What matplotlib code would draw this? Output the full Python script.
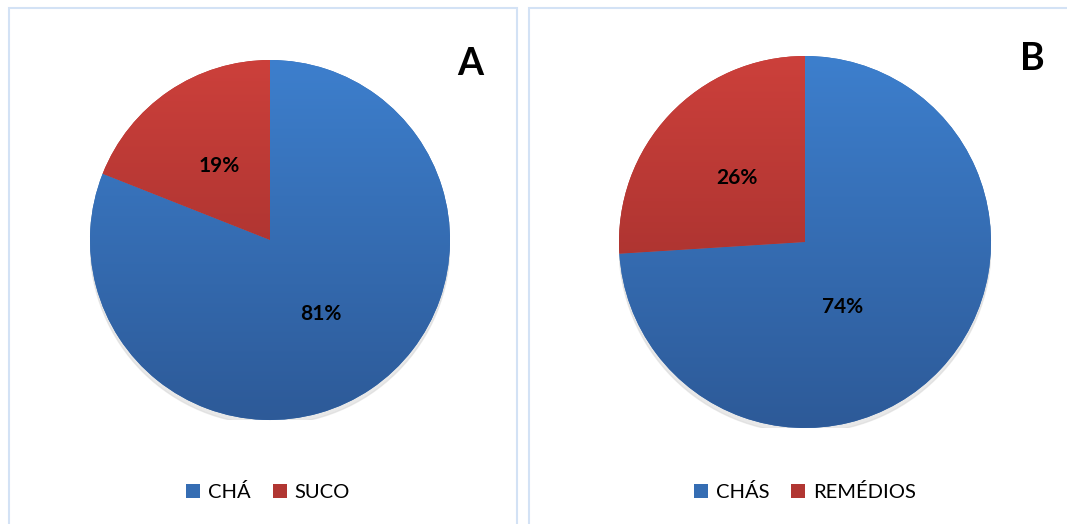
import numpy as np
import matplotlib.pyplot as plt
from matplotlib.colors import LinearSegmentedColormap, to_rgb
from matplotlib.patches import Rectangle, Circle

plt.rcParams['font.family'] = ['Lato', 'DejaVu Sans']

# Dados dos dois gráficos
labels_a = ["CHÁ", "SUCO"]
values_a = [81, 19]
labels_b = ["CHÁS", "REMÉDIOS"]
values_b = [74, 26]

# cores (topo, base) de cada fatia
blue = ("#3d7fcd", "#2d5a98")
red = ("#cc403b", "#962b29")

fig = plt.figure(figsize=(10.67, 5.24), dpi=100)

# molduras dos painéis
fig.patches.append(Rectangle((9 / 1067, -0.05), 508 / 1067, (524 - 8) / 524 + 0.05,
                             transform=fig.transFigure, fill=False,
                             edgecolor="#d3e2f5", linewidth=1.5))
fig.patches.append(Rectangle((529 / 1067, -0.05), 0.6, (524 - 8) / 524 + 0.05,
                             transform=fig.transFigure, fill=False,
                             edgecolor="#d3e2f5", linewidth=1.5))


def grad_cmap(cols):
    return LinearSegmentedColormap.from_list("g", [cols[1], cols[0]])


def draw_pie(rect, values, labels, letter, letter_pos, legend_pos, moved=None):
    ax = fig.add_axes(rect)
    ax.add_patch(Circle((0.0, -0.025), 1.0, color="#d9d9d9", alpha=0.6, zorder=0))
    wedges, texts, autotexts = ax.pie(values, startangle=90, counterclock=False,
                                      colors=[blue[0], red[0]], autopct="%d%%",
                                      pctdistance=0.5, radius=1.0,
                                      textprops=dict(fontsize=15, fontweight="bold",
                                                     color="black"))
    grad = np.linspace(0, 1, 256).reshape(-1, 1)
    for w, cols in zip(wedges, [blue, red]):
        im = ax.imshow(grad, extent=[-1, 1, -1, 1], origin="lower",
                       cmap=grad_cmap(cols), aspect="auto", zorder=2)
        im.set_clip_path(w)
    for t in autotexts:
        t.set_zorder(5)
    if moved is not None:
        autotexts[0].set_position(moved)
    ax.set_xlim(-1, 1)
    ax.set_ylim(-1, 1)
    ax.axis("off")

    fig.text(letter_pos[0] / 1067, 1 - letter_pos[1] / 524, letter, fontsize=27,
             fontweight="bold", ha="center", va="center")

    # legenda com a cor média de cada fatia
    for w, cols in zip(wedges, [blue, red]):
        w.set_facecolor((np.array(to_rgb(cols[0])) + np.array(to_rgb(cols[1]))) / 2)
    fig.legend(wedges, labels, loc="center",
               bbox_to_anchor=(legend_pos[0] / 1067, 1 - legend_pos[1] / 524),
               ncol=2, frameon=False, fontsize=14.5, handlelength=0.7,
               handleheight=0.7, handletextpad=0.4, columnspacing=1.1)
    return ax


draw_pie([90 / 1067, 104 / 524, 360 / 1067, 360 / 524], values_a, labels_a,
         "A", (470, 64), (268, 492))
draw_pie([619 / 1067, 96 / 524, 372 / 1067, 372 / 524], values_b, labels_b,
         "B", (1032, 59), (805, 492), moved=(0.2, -0.35))

fig.savefig("out.png", dpi=100)
